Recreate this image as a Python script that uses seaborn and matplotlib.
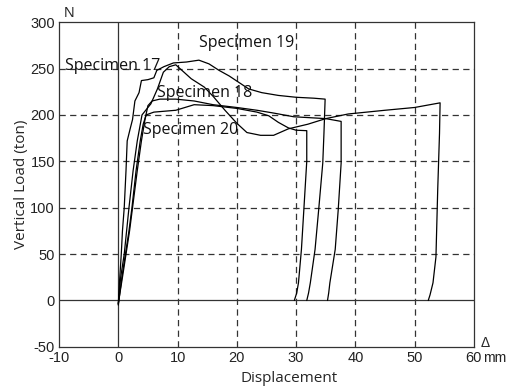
import matplotlib
matplotlib.use("Agg")
import matplotlib.pyplot as plt
import seaborn as sns
import pandas as pd

# ---- data ----
spec19_x = [0.0, 0.2, 0.5, 0.7, 1.0, 1.3, 1.5, 2.0, 2.4, 2.8, 3.5, 3.9, 5.0, 6.0, 6.5, 7.7, 9.3, 11.5, 13.6,
            15.3, 17.0, 18.7, 22.0, 24.2, 27.0, 30.0, 33.0, 34.9,
            34.9, 34.7, 34.5, 33.8, 33.2, 32.4, 32.1, 31.8]
spec19_y = [-4, 20, 50, 75, 100, 140, 172, 185, 195, 215, 224, 237, 238, 240, 248, 252, 256, 257, 259,
            255, 248, 242, 228, 224, 221, 219, 218, 217,
            217, 180, 148, 97, 55, 19, 8, 0]

spec17_x = [0.0, 0.4, 1.0, 1.4, 1.8, 2.5, 3.2, 4.0, 5.5, 6.6, 7.6, 8.6, 9.7, 12.3, 14.5, 16.0, 18.0, 20.0,
            21.7, 24.0, 26.2, 28.7, 32.0, 35.0, 38.8, 45.0, 50.0, 54.3,
            54.3, 54.2, 53.9, 53.6, 53.1, 52.6, 52.3]
spec17_y = [-4, 25, 50, 75, 100, 140, 172, 200, 212, 228, 246, 252, 254, 239, 230, 220, 205, 191,
            181, 178, 178, 185, 190, 196, 201, 205, 208, 213,
            213, 180, 120, 47, 19, 6, 0]

spec18_x = [0.0, 0.7, 1.3, 1.9, 2.4, 3.2, 3.9, 4.5, 5.0, 5.7, 7.0, 9.7, 12.8, 16.0, 20.0, 23.4, 26.2,
            29.6, 35.0, 37.6,
            37.6, 37.6, 37.1, 36.6, 35.7, 35.5, 35.3]
spec18_y = [-3, 25, 50, 75, 100, 140, 172, 195, 210, 215, 217, 217, 215, 211, 208, 205, 202,
            198, 196, 193,
            193, 148, 97, 55, 19, 8, 0]

spec20_x = [0.0, 0.6, 1.2, 1.8, 2.3, 3.0, 3.7, 4.2, 4.7, 6.0, 9.7, 12.8, 16.0, 20.0, 23.4, 25.4,
            27.0, 28.7, 30.0, 31.8,
            31.8, 31.8, 31.3, 30.9, 30.4, 30.1, 29.7]
spec20_y = [-5, 25, 50, 75, 100, 140, 172, 190, 200, 203, 205, 211, 210, 207, 203, 199,
            192, 186, 183.5, 183,
            183, 150, 97, 55, 19, 8, 0]

x_ticks = [-10, 0, 10, 20, 30, 40, 50, 60]
y_ticks = [-50, 0, 50, 100, 150, 200, 250, 300]

labels = ["Specimen 19", "Specimen 17", "Specimen 18", "Specimen 20"]
label_pos = [(13.6, 278), (-9.0, 253), (6.5, 224), (4.2, 184)]

# ---- figure ----
sns.set_style("white")
plt.rcParams['font.family'] = ['Liberation Sans', 'DejaVu Sans']

fig = plt.figure(figsize=(5.09, 3.88), dpi=100)
ax = fig.add_axes([0.116, 0.106, 0.815, 0.837])

for xs, ys in [(spec19_x, spec19_y), (spec17_x, spec17_y), (spec18_x, spec18_y), (spec20_x, spec20_y)]:
    df = pd.DataFrame({"x": xs, "y": ys})
    sns.lineplot(data=df, x="x", y="y", sort=False, estimator=None, color="black", lw=0.9, ax=ax)

ax.set_xlim(-10, 60)
ax.set_ylim(-50, 300)
ax.set_xticks(x_ticks)
ax.set_yticks(y_ticks)
ax.set_xticklabels([str(t) for t in x_ticks])
ax.set_yticklabels([str(t) for t in y_ticks])
ax.tick_params(axis='both', length=0, pad=3, labelsize=10.5, colors='#222222')

for v in [10, 20, 30, 40, 50]:
    ax.axvline(v, color='#333333', lw=0.9, ls=(0, (5, 3.5)), zorder=0)
for v in [50, 100, 150, 200, 250]:
    ax.axhline(v, color='#333333', lw=0.9, ls=(0, (5, 3.5)), zorder=0)
ax.axvline(0, color='#333333', lw=0.9, zorder=0)
ax.axhline(0, color='#333333', lw=0.9, zorder=0)

for s in ax.spines.values():
    s.set_color('#333333')
    s.set_linewidth(0.9)

ax.set_xlabel("Displacement", fontsize=11, family=['Open Sans', 'DejaVu Sans'], labelpad=2)
ax.xaxis.set_label_coords(0.555, -0.075)
ax.set_ylabel("Vertical Load (ton)", fontsize=11, family=['Open Sans', 'DejaVu Sans'], labelpad=1)

for txt, (px, py) in zip(labels, label_pos):
    ax.text(px, py, txt, fontsize=11.5, family=['Open Sans', 'DejaVu Sans'], ha='left', va='center',
            color='#111111')

ax.text(0.012, 1.005, "N", transform=ax.transAxes, fontsize=10.5, ha='left', va='bottom')
ax.text(1.017, -0.01, "\u0394", transform=ax.transAxes, fontsize=10, ha='left', va='bottom')
ax.annotate("mm", xy=(1.0, 0.0), xycoords='axes fraction', xytext=(6.5, -3.0), textcoords='offset points',
            fontsize=10, ha='left', va='top', color='#222222')

fig.savefig("out.png", dpi=100, facecolor='white')
